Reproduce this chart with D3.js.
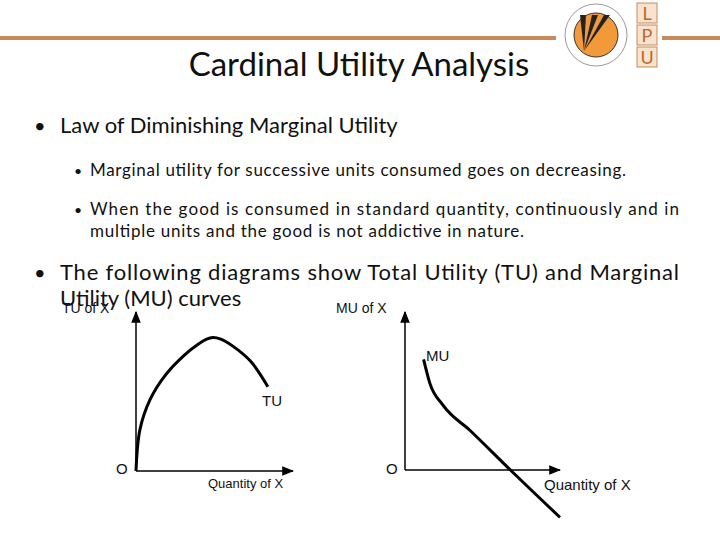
<!DOCTYPE html>
<html><head><meta charset="utf-8">
<script src="https://cdn.jsdelivr.net/npm/d3@7"></script>
<style>body{margin:0;background:#fff}svg{display:block}</style>
</head><body>
<svg id="slide" width="720" height="540"></svg>
<script>
/* ── DATA ───────────────────────────────────────────────────────────── */
const tuQty = [0, 0.25, 0.9, 1.85, 3.1, 4.0, 4.5, 4.9, 5.4, 6.1, 7.3, 8.4];
const tuVal = [0, 2.6, 4.5, 6.0, 7.3, 8.0, 8.3, 8.4, 8.3, 7.9, 6.9, 5.3];
const muQty = [1.2, 1.6, 2.45, 4.2, 6.8, 10.0];
const muVal = [7.0, 5.5, 4.1, 2.5, 0, -3.0];
const bullets = ['Law of Diminishing Marginal Utility'];
const subBullets = ['Marginal utility for successive units consumed goes on decreasing.'];

const svg = d3.select('#slide');
const font = 'Lato, "Open Sans", sans-serif';
const lab = 'Liberation Sans, Arial, sans-serif';

/* ── HEADER ─────────────────────────────────────────────────────────── */
svg.append('line').attr('x1', 0).attr('x2', 556).attr('y1', 38).attr('y2', 38)
  .attr('stroke', '#c98a5b').attr('stroke-width', 4);
svg.append('line').attr('x1', 662).attr('x2', 720).attr('y1', 38).attr('y2', 38)
  .attr('stroke', '#c98a5b').attr('stroke-width', 4);
const logo = svg.append('g').attr('transform', 'translate(596,35)');
logo.append('circle').attr('r', 31).attr('fill', '#fff').attr('stroke', '#999');
logo.append('circle').attr('r', 22).attr('fill', '#f29a3a').attr('stroke', '#333');
[-0.6, 0, 0.6].forEach(a => {
  logo.append('path').attr('d', `M-12,16 L${-4 + a * 20},-20 L${2 + a * 20},-20 Z`).attr('fill', '#222');
});
['L', 'P', 'U'].forEach((t, i) => {
  svg.append('rect').attr('x', 637).attr('y', 3 + i * 22).attr('width', 20).attr('height', 20)
    .attr('fill', '#f7e3cf').attr('stroke', '#c98a5b');
  svg.append('text').attr('x', 647).attr('y', 20 + i * 22).attr('text-anchor', 'middle')
    .attr('font-family', font).attr('font-size', 18).attr('fill', '#c0662a').text(t);
});
svg.append('text').attr('x', 359).attr('y', 76).attr('text-anchor', 'middle')
  .attr('font-family', font).attr('font-size', 33).attr('fill', '#111').text('Cardinal Utility Analysis');

/* ── BULLETS ────────────────────────────────────────────────────────── */
function line(x, y, size, txt, width) {
  const t = svg.append('text').attr('x', x).attr('y', y).attr('font-family', font)
    .attr('font-size', size).attr('fill', '#111').text(txt);
  if (width) t.attr('textLength', width).attr('lengthAdjust', 'spacing');
}
line(34, 133, 20, '•'); line(60, 133, 22, bullets[0]);
line(74, 176, 14, '•'); line(90, 176, 17, subBullets[0], 536);
line(74, 215, 14, '•');
line(90, 215, 17, 'When the good is consumed in standard quantity, continuously and in', 589);
line(90, 237, 17, 'multiple units and the good is not addictive in nature.', 434);
line(34, 280, 20, '•');
line(60, 280, 22, 'The following diagrams show Total Utility (TU) and Marginal', 619);
line(60, 306, 22, 'Utility (MU) curves');

/* ── DIAGRAMS ───────────────────────────────────────────────────────── */
svg.append('defs').append('marker').attr('id', 'arr').attr('viewBox', '0 0 10 10')
  .attr('refX', 9).attr('refY', 5).attr('markerWidth', 8).attr('markerHeight', 8)
  .attr('orient', 'auto').append('path').attr('d', 'M0,1 L10,5 L0,9 Z').attr('fill', '#000');

function panel(x0, x1, y0, qty, val, curve) {
  const x = d3.scaleLinear().domain([0, 10]).range([x0, x1]);
  const y = d3.scaleLinear().domain([0, 10]).range([y0, 312]);
  svg.append('line').attr('x1', x(0)).attr('y1', y(0)).attr('x2', x(0)).attr('y2', y(10))
    .attr('stroke', '#000').attr('stroke-width', 1.5).attr('marker-end', 'url(#arr)');
  svg.append('line').attr('x1', x(0)).attr('y1', y(0)).attr('x2', x(10)).attr('y2', y(0))
    .attr('stroke', '#000').attr('stroke-width', 1.5).attr('marker-end', 'url(#arr)');
  svg.append('path').datum(d3.zip(qty, val))
    .attr('d', d3.line().x(d => x(d[0])).y(d => y(d[1])).curve(curve))
    .attr('fill', 'none').attr('stroke', '#000').attr('stroke-width', 3);
}
panel(136, 293, 471, tuQty, tuVal, d3.curveCatmullRom.alpha(0.5));
panel(405, 560, 470, muQty, muVal, d3.curveMonotoneX);

function lbl(x, y, s, t) {
  svg.append('text').attr('x', x).attr('y', y).attr('font-family', lab)
    .attr('font-size', s).attr('fill', '#111').text(t);
}
lbl(62, 313, 14, 'TU of X'); lbl(336, 313, 14, 'MU of X');
lbl(262, 406, 15, 'TU'); lbl(426, 361, 15, 'MU');
lbl(116, 474, 15, 'O'); lbl(386, 474, 15, 'O');
lbl(208, 488, 13, 'Quantity of X'); lbl(544, 490, 15, 'Quantity of X');
</script>
</body></html>
